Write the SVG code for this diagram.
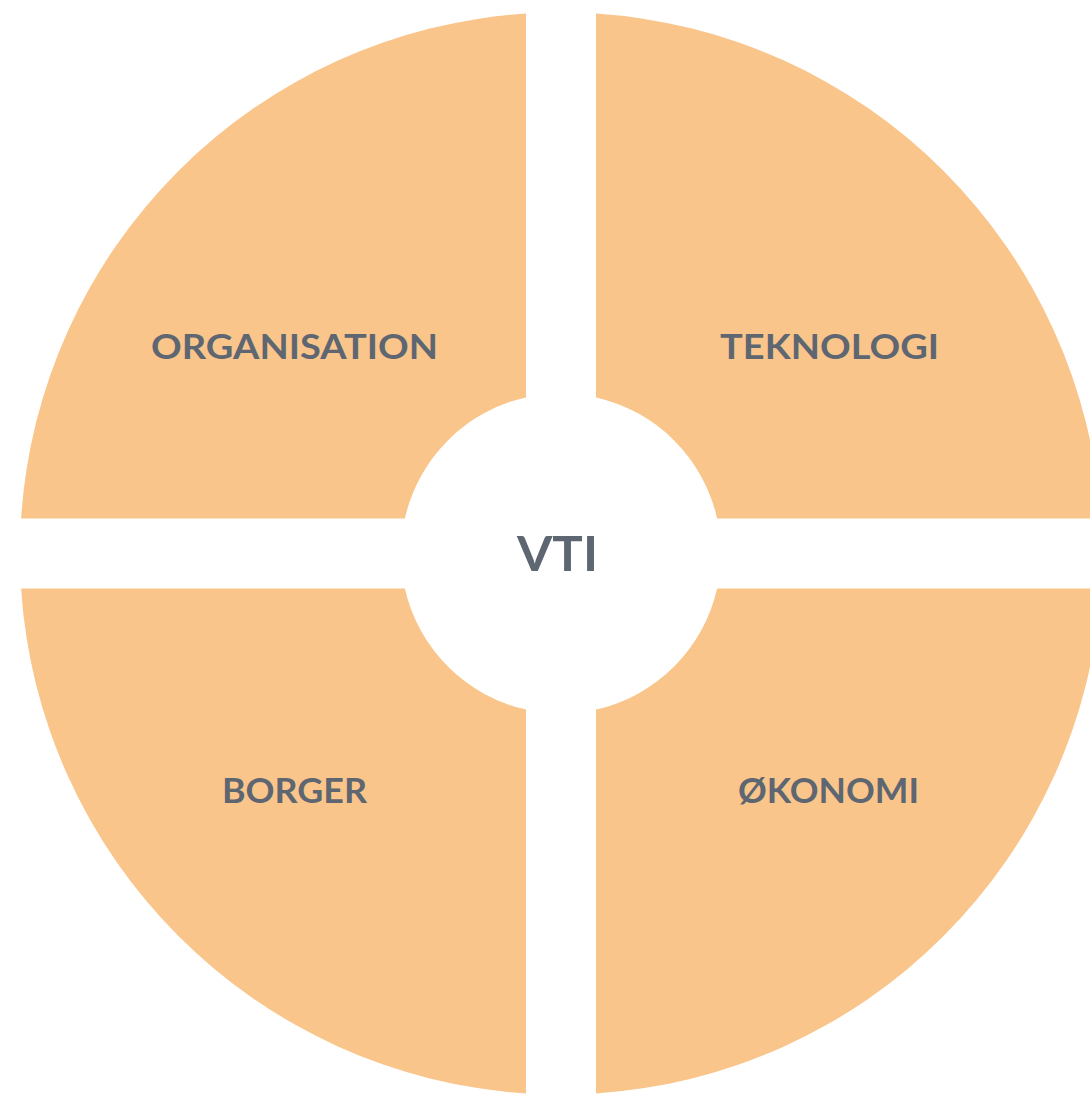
<svg xmlns="http://www.w3.org/2000/svg" width="1090" height="1097" viewBox="0 0 1090 1097">
  <style>
    .quad { fill: #FAC58A; }
    .label { font-family: Lato, "Open Sans", "Liberation Sans", sans-serif; font-weight: 700; font-size: 34px; fill: #5E6672; }
    .core { font-size: 47px; }
  </style>
  <rect width="1090" height="1097" fill="#FFFFFF"/>

  <!-- ring split into four quadrants around the centre (561, 553.5) -->
  <g id="organisation">
    <path class="quad" d="M526,13.6 L526,397.4 A160,160 0 0 0 404.9,518.5 L21.1,518.5 A541,541 0 0 1 526,13.6 Z"/>
    <text class="label" x="151" y="359" textLength="287" lengthAdjust="spacingAndGlyphs">ORGANISATION</text>
  </g>
  <g id="teknologi">
    <path class="quad" d="M596,13.6 A541,541 0 0 1 1100.9,518.5 L717.1,518.5 A160,160 0 0 0 596,397.4 Z"/>
    <text class="label" x="720" y="359" textLength="219" lengthAdjust="spacingAndGlyphs">TEKNOLOGI</text>
  </g>
  <g id="borger">
    <path class="quad" d="M526,1093.4 A541,541 0 0 1 21.1,588.5 L404.9,588.5 A160,160 0 0 0 526,709.6 Z"/>
    <text class="label" x="222" y="803" textLength="145" lengthAdjust="spacingAndGlyphs">BORGER</text>
  </g>
  <g id="okonomi">
    <path class="quad" d="M1100.9,588.5 A541,541 0 0 1 596,1093.4 L596,709.6 A160,160 0 0 0 717.1,588.5 Z"/>
    <text class="label" x="738" y="803" textLength="181" lengthAdjust="spacingAndGlyphs">ØKONOMI</text>
  </g>
  <g id="vti">
    <text class="label core" x="517" y="571" textLength="81" lengthAdjust="spacingAndGlyphs">VTI</text>
  </g>
  <g id="connectors"/>
</svg>
